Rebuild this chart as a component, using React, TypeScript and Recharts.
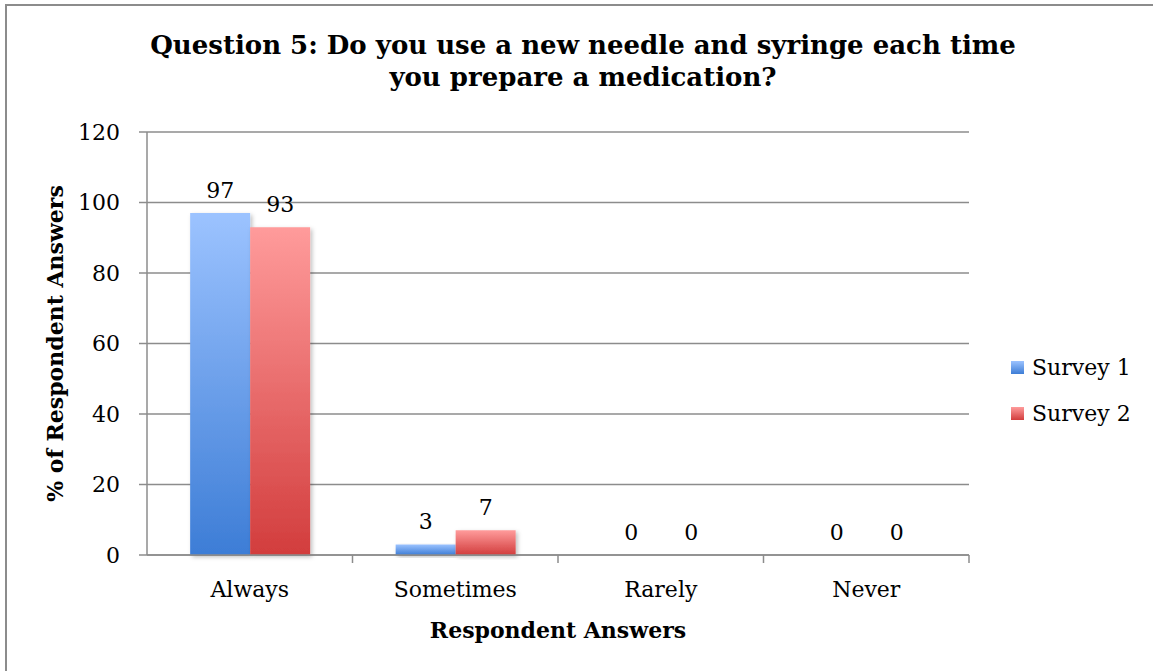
import React from "react";
import {
  BarChart,
  Bar,
  XAxis,
  YAxis,
  CartesianGrid,
  Legend,
  LabelList,
  Label,
} from "recharts";

const categories = ["Always", "Sometimes", "Rarely", "Never"];
const survey1 = [97, 3, 0, 0];
const survey2 = [93, 7, 0, 0];
const yTicks = [0, 20, 40, 60, 80, 100, 120];
const seriesNames = ["Survey 1", "Survey 2"];

const data = categories.map((c, i) => ({ name: c, s1: survey1[i], s2: survey2[i] }));

const FONT = "'DejaVu Serif', serif";
const GRID = "#8c8c8c";

const LEGEND_SWATCH = [
  "linear-gradient(#9cc3ff, #3d7dd6)",
  "linear-gradient(#ff9b9b, #d23d3d)",
];

const XTick = (props: any) => {
  const { x, y, payload } = props;
  const off = payload?.offset ?? 0;
  return (
    <g>
      <line x1={x + off} x2={x + off} y1={y} y2={y + 8} stroke={GRID} strokeWidth={1.5} />
      <text x={x} y={y + 34} dy="0.35em" textAnchor="middle" fill="#000" fontSize={22} fontFamily={FONT}>
        {payload.value}
      </text>
    </g>
  );
};

const LegendBox = () => (
  <div style={{ fontFamily: FONT, fontSize: 22, color: "#000" }}>
    {seriesNames.map((n, i) => (
      <div key={n} style={{ display: "flex", alignItems: "center", height: 46 }}>
        <span
          style={{
            width: 13,
            height: 13,
            background: LEGEND_SWATCH[i],
            marginRight: 8,
            display: "inline-block",
          }}
        />
        {n}
      </div>
    ))}
  </div>
);

const labelStyle = { fontFamily: FONT, fontSize: 22, fill: "#000" };

export default function App() {
  return (
    <div style={{ position: "absolute", left: 0, top: 0, width: 1153, height: 671, background: "#fff", overflow: "hidden" }}>
      <div
        style={{
          position: "absolute",
          left: 5,
          top: 4,
          width: 1170,
          height: 700,
          border: "2px solid #8c8c8c",
        }}
      />
      <div
        style={{
          position: "absolute",
          left: 0,
          top: 29,
          width: 1166,
          textAlign: "center",
          fontFamily: FONT,
          fontWeight: "bold",
          fontSize: 26,
          lineHeight: "32px",
          color: "#000",
        }}
      >
        Question 5: Do you use a new needle and syringe each time
        <br />
        you prepare a medication?
      </div>
      <div style={{ position: "absolute", left: 0, top: 0 }}>
        <BarChart
          width={1153}
          height={671}
          data={data}
          margin={{ top: 132, right: 44, left: 87, bottom: 66 }}
          barCategoryGap="21%"
          barGap={0}
        >
          <defs>
            <linearGradient id="g1" x1="0" y1="0" x2="0" y2="1">
              <stop offset="0%" stopColor="#9cc3ff" />
              <stop offset="100%" stopColor="#3d7dd6" />
            </linearGradient>
            <linearGradient id="g2" x1="0" y1="0" x2="0" y2="1">
              <stop offset="0%" stopColor="#ff9b9b" />
              <stop offset="100%" stopColor="#d23d3d" />
            </linearGradient>
            <filter id="shadow" x="-10%" y="-10%" width="130%" height="130%">
              <feDropShadow dx="2" dy="2" stdDeviation="2" floodColor="#000" floodOpacity="0.25" />
            </filter>
          </defs>
          <CartesianGrid vertical={false} stroke={GRID} strokeWidth={1.5} />
          <XAxis
            dataKey="name"
            stroke={GRID}
            strokeWidth={1.5}
            tickLine={false}
            tickSize={0}
            tickMargin={0}
            height={50}
            tick={<XTick />}
            interval={0}
          >
            <Label
              value="Respondent Answers"
              position="bottom"
              offset={17}
              style={{ ...labelStyle, fontWeight: "bold" }}
            />
          </XAxis>
          <YAxis
            domain={[0, 120]}
            ticks={yTicks}
            width={60}
            stroke={GRID}
            strokeWidth={1.5}
            tickSize={8}
            tickMargin={19}
            tick={labelStyle}
          >
            <Label
              value="% of Respondent Answers"
              angle={-90}
              position="left"
              offset={32}
              style={{ ...labelStyle, fontWeight: "bold", textAnchor: "middle" }}
            />
          </YAxis>
          <Legend
            layout="vertical"
            align="right"
            verticalAlign="top"
            content={<LegendBox />}
            wrapperStyle={{ left: 1011, top: 344, width: 140 }}
          />
          <Bar dataKey="s1" name={seriesNames[0]} fill="url(#g1)" filter="url(#shadow)" minPointSize={0.01} isAnimationActive={false}>
            <LabelList dataKey="s1" position="top" offset={15} style={labelStyle} />
          </Bar>
          <Bar dataKey="s2" name={seriesNames[1]} fill="url(#g2)" filter="url(#shadow)" minPointSize={0.01} isAnimationActive={false}>
            <LabelList dataKey="s2" position="top" offset={15} style={labelStyle} />
          </Bar>
        </BarChart>
      </div>
    </div>
  );
}
